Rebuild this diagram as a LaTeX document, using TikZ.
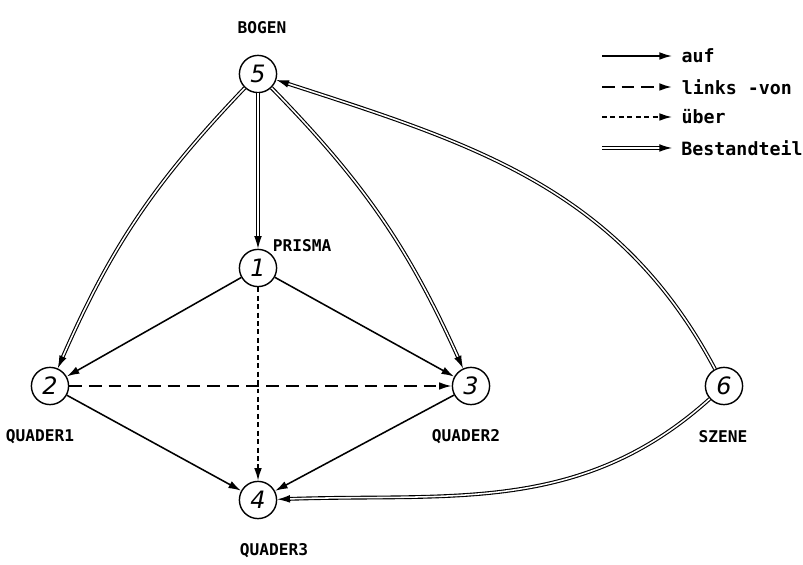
\documentclass[tikz,border=0pt]{standalone}
\usepackage{fontspec}
\setmonofont{DejaVu Sans Mono}
\setsansfont{DejaVu Sans}
\usetikzlibrary{arrows.meta}

\begin{document}
\begin{tikzpicture}[x=0.025cm, y=0.025cm,
    knoten/.style={circle, draw, line width=1pt, minimum size=0.93cm, inner sep=0pt,
      font=\sffamily\itshape\fontsize{17}{17}\selectfont},
    beschr/.style={font=\ttfamily\bfseries\fontsize{11.5}{13}\selectfont},
    legtext/.style={font=\ttfamily\bfseries\fontsize{13}{15}\selectfont, right, xshift=3pt},
    pfeil/.style={-{Latex[length=9pt,width=5.5pt]}},
    auf/.style={pfeil, line width=1.1pt},
    links/.style={pfeil, line width=1.3pt, dash pattern=on 9pt off 5pt},
    ueber/.style={pfeil, line width=1.1pt, dash pattern=on 3.5pt off 2.5pt},
    bestand/.style={pfeil, line width=0.8pt, double, double distance=1.1pt}]

    \useasboundingbox (0,0) rectangle (803,565);

    % Knoten
    \node[knoten] (n5) at (258,491) {5};
    \node[knoten] (n1) at (258,297) {1};
    \node[knoten] (n2) at (50,179) {2};
    \node[knoten] (n3) at (471,179) {3};
    \node[knoten] (n6) at (724,179) {6};
    \node[knoten] (n4) at (258,65) {4};

    \node[beschr] (bogen) at (262,537) {BOGEN};
    \node[beschr, anchor=west] (prisma) at (268,319) {PRISMA};
    \node[beschr] (quader1) at (40,128) {QUADER1};
    \node[beschr] (quader2) at (466,128) {QUADER2};
    \node[beschr] (szene) at (723,128) {SZENE};
    \node[beschr] (quader3) at (274,14) {QUADER3};

    % Kanten
    \draw[bestand] (n5) -- (n1);
    \draw[bestand] (n5) to[bend right=10] (n2);
    \draw[bestand] (n5) to[bend left=10] (n3);
    \draw[bestand] (n6) to[out=118, in=-18] (n5);
    \draw[bestand] (n6) to[out=222, in=2] (n4);

    \draw[auf] (n1) -- (n2);
    \draw[auf] (n1) -- (n3);
    \draw[auf] (n2) -- (n4);
    \draw[auf] (n3) -- (n4);

    \draw[links] (n2) -- (n3);
    \draw[ueber] (n1) -- (n4);

    % Legende
    \coordinate (la1) at (602,509); \coordinate (lb1) at (672,509);
    \coordinate (la2) at (602,478); \coordinate (lb2) at (672,478);
    \coordinate (la3) at (602,448); \coordinate (lb3) at (672,448);
    \coordinate (la4) at (602,417); \coordinate (lb4) at (672,417);

    \draw[auf] (la1) -- (lb1) node[legtext] (t1) {auf};
    \draw[links] (la2) -- (lb2) node[legtext] (t2) {links -von};
    \draw[ueber] (la3) -- (lb3) node[legtext] (t3) {über};
    \draw[bestand] (la4) -- (lb4) node[legtext] (t4) {Bestandteil};

\end{tikzpicture}
\end{document}
